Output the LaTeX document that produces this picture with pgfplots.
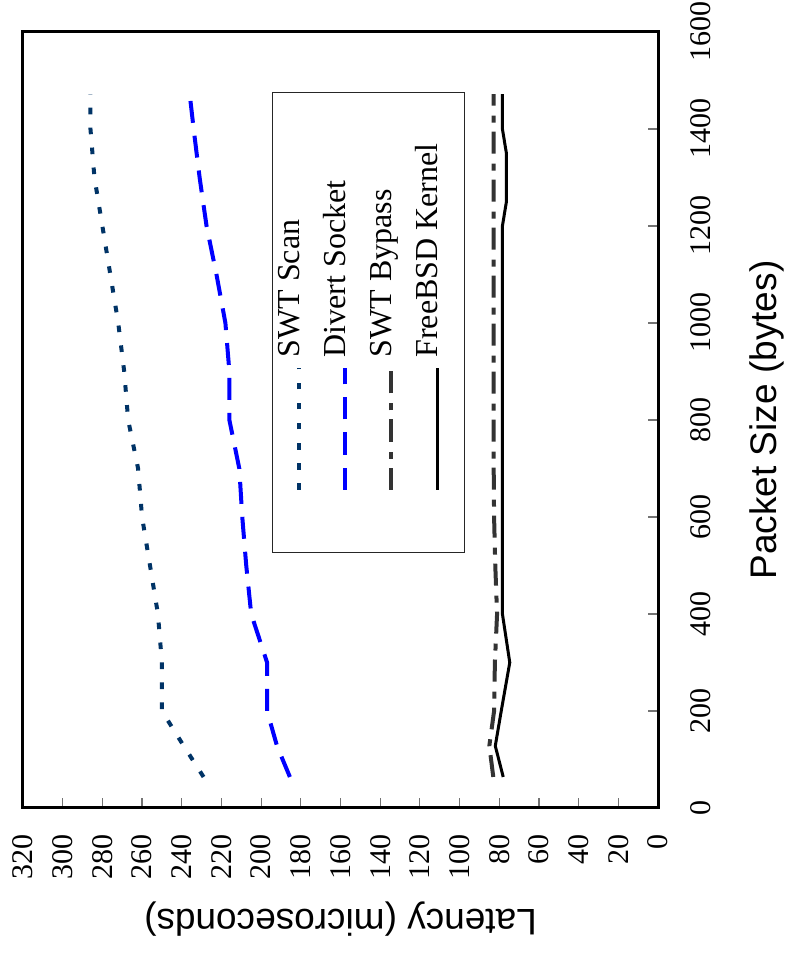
\documentclass[border=0pt]{standalone}
\usepackage{fontspec}
\setmainfont{Liberation Serif}
\newfontfamily\arialfont{Liberation Sans}
\usepackage{pgfplots}
\pgfplotsset{compat=1.18}
\definecolor{scanblue}{RGB}{0,51,102}
\definecolor{bypassgray}{RGB}{51,51,51}

\begin{document}
\rotatebox{90}{%
\begin{tikzpicture}
\begin{axis}[
  scale only axis,
  width=388pt, height=317.5pt,
  xmin=0, xmax=1600, ymin=0, ymax=320,
  xtick={0,200,...,1600}, ytick={0,20,...,320},
  tick pos=left,
  tick align=inside,
  major tick length=5pt,
  tick style={black!55, line width=0.6pt},
  axis line style={line width=1.5pt},
  ticklabel style={font=\fontsize{15}{18}\selectfont},
  /pgf/number format/assume math mode=true,
  /pgf/number format/1000 sep={},
  xticklabel shift=12.5pt, yticklabel shift=9.5pt,
  xlabel={Packet Size (bytes)},
  ylabel={Latency (microseconds)},
  label style={font=\arialfont\fontsize{18.5}{22}\selectfont},
  xlabel style={at={(axis description cs:0.5,-0.1868)}, anchor=base},
  ylabel style={at={(axis description cs:-0.1314,0.5)}, anchor=base},
  legend cell align=left,
  legend style={at={(axis description cs:0.3286,0.6079)}, anchor=north west,
    draw=black!85, line width=0.5pt, inner xsep=0pt, inner ysep=2pt,
    row sep=0pt, column sep=0pt,
    font=\fontsize{16}{19}\selectfont,
    nodes={inner sep=0pt, text height=11.5pt, text depth=11.5pt}},
  legend image code/.code={%
    \path[draw=none] (-31.5pt,0pt) -- (66pt,0pt);
    \draw[#1] (0pt,0pt) -- (60.5pt,0pt);},
]
% SWT Scan
\addplot[scanblue, line width=2pt, dash pattern=on 3.3pt off 6.7pt] coordinates {
  (64,229) (128,239) (200,250) (300,250) (400,252) (500,256) (600,260)
  (700,262) (800,267) (900,269) (1000,272) (1100,276) (1200,280)
  (1300,284) (1400,286) (1472,286)
};
% Divert Socket
\addplot[blue, line width=2pt, dash pattern=on 11pt off 6.5pt] coordinates {
  (64,185.5) (128,192) (200,197) (300,197) (400,205) (500,207.5) (600,209.5)
  (700,211) (800,216) (900,216) (1000,218) (1100,222.5) (1200,227.5)
  (1300,231) (1400,234) (1472,236)
};
% SWT Bypass
\addplot[bypassgray, line width=2pt, dash pattern=on 11pt off 4.5pt on 3.5pt off 5pt] coordinates {
  (64,83) (128,85) (200,82.6) (300,82.2) (400,81.1) (500,82) (600,82.6)
  (700,82.8) (800,82.8) (900,82.8) (1000,82.8) (1100,82.8) (1200,82.8)
  (1300,82.8) (1400,82.8) (1472,82.8)
};
% FreeBSD Kernel
\addplot[black, line width=1.5pt] coordinates {
  (64,78) (128,82) (200,79) (300,74.7) (400,78.4) (500,78.4) (600,78.4)
  (700,78.4) (800,78.4) (900,78.4) (1000,78.4) (1100,78.4) (1200,78.4)
  (1250,76.4) (1350,76.4) (1400,78.4) (1472,78.4)
};
\legend{\makebox[132.5pt][l]{SWT Scan}, \makebox[132.5pt][l]{Divert Socket},
  \makebox[132.5pt][l]{SWT Bypass}, \makebox[132.5pt][l]{FreeBSD Kernel}}
\end{axis}
\pgfresetboundingbox
\path[use as bounding box] ([shift={(-74pt,-65pt)}]current axis.south west)
  rectangle ([shift={(16pt,11.5pt)}]current axis.north east);
\end{tikzpicture}}
\end{document}
